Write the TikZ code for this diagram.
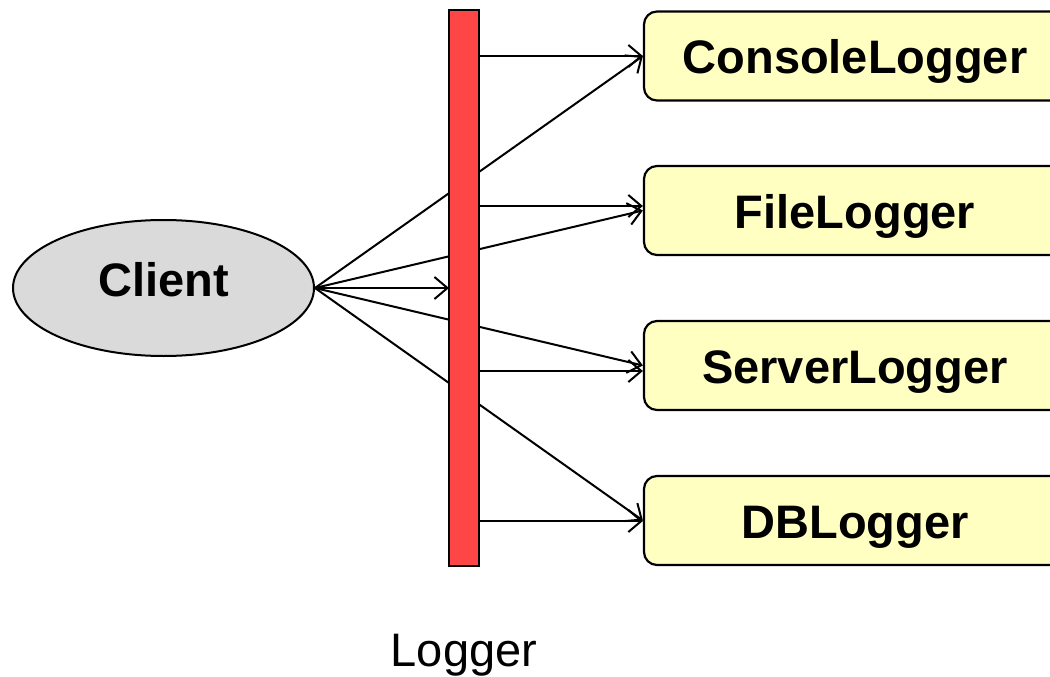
\documentclass[tikz,border=0pt]{standalone}
\usepackage{fontspec}
\setmainfont{Liberation Sans}
\usetikzlibrary{arrows.meta,shapes.geometric}
\definecolor{barred}{HTML}{FF4646}
\definecolor{boxyellow}{HTML}{FFFFC2}
\definecolor{clientgray}{HTML}{DADADA}
\tikzset{
  every node/.style={font=\fontsize{47}{56}\selectfont},
  logger/.style={draw=black, line width=2.2pt, fill=boxyellow, rounded corners=13pt,
    minimum width=422pt, minimum height=89pt, inner sep=0pt, text height=36pt, text depth=0pt,
    font=\fontsize{47}{56}\selectfont\bfseries},
  conn/.style={draw=black, line width=2pt, -{Straight Barb[length=13pt,width=22pt,line width=2pt]}},
}
\begin{document}
\begin{tikzpicture}[x=1pt,y=-1pt]
\useasboundingbox (0,0) rectangle (1050,677);
\clip (0,0) rectangle (1050,677);
\node[ellipse, draw=black, line width=2pt, fill=clientgray, minimum width=301pt, minimum height=136pt, inner sep=0pt, text height=34pt, text depth=18pt, font=\fontsize{47}{56}\selectfont\bfseries] (client) at (163.5,288) {Client};
\node[logger] (console) at (855,56) {ConsoleLogger};
\node[logger] (file) at (855,210.5) {FileLogger};
\node[logger] (server) at (855,365.5) {ServerLogger};
\node[logger] (db) at (855,520.5) {DBLogger};
\coordinate (cin) at (449,288);
\draw[conn] (client.east) -- (console.west);
\draw[conn] (client.east) -- (file.west);
\draw[conn] (client.east) -- (server.west);
\draw[conn] (client.east) -- (db.west);
\draw[conn] (client.east) -- (cin);
\node[draw=black, line width=2pt, fill=barred, minimum width=30pt, minimum height=556pt, inner sep=0pt] (bar) at (464,288) {};
\draw[conn] (bar.east |- 0,56) -- (console.west |- 0,56);
\draw[conn] (bar.east |- 0,206) -- (file.west |- 0,206);
\draw[conn] (bar.east |- 0,371) -- (server.west |- 0,371);
\draw[conn] (bar.east |- 0,521) -- (db.west |- 0,521);
\node[anchor=base, inner sep=0pt] (label) at (464,666) {Logger};
\end{tikzpicture}
\end{document}
